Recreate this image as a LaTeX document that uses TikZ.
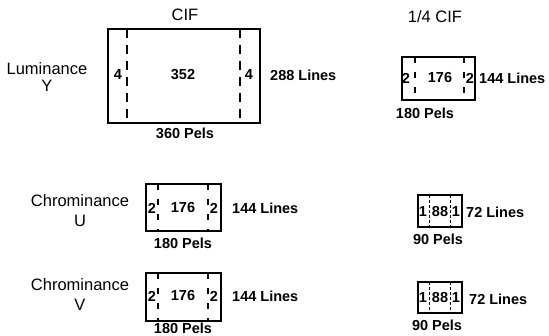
\documentclass[tikz,border=0pt]{standalone}
\usepackage{fontspec}
\setmainfont{Liberation Sans}
\begin{document}
\begin{tikzpicture}[x=1pt,y=-1pt,
  lbl/.style={font=\fontsize{16.5}{16.5}\selectfont, inner sep=0pt},
  num/.style={font=\fontsize{14.5}{14.5}\selectfont\bfseries, inner sep=0pt},
  frm/.style={draw, line width=1.8pt, inner sep=0pt},
  bigdash/.style={line width=1.5pt, dash pattern=on 9pt off 7pt},
  middash/.style={line width=1.2pt, dash pattern=on 6pt off 9pt},
  smalldash/.style={line width=1pt, dash pattern=on 3pt off 2pt}]
\useasboundingbox (0,0) rectangle (549,335);

% ---- CIF ----
\node[lbl] (cif) at (185,15) {CIF};
\node[lbl] (lum) at (47,69) {Luminance};
\node[lbl] (lumy) at (47,86) {Y};
\node[frm, minimum width=152pt, minimum height=94pt] (ybox) at (184,76) {};
\draw[bigdash] (127,29) -- (127,123);
\draw[bigdash] (240,29) -- (240,123);
\node[num] (y4a) at (118,75) {4};
\node[num] (y352) at (183,75) {352};
\node[num] (y4b) at (249,75) {4};
\node[num, anchor=west] (ylines) at (270,75) {288 Lines};
\node[num] (ypels) at (185,133) {360 Pels};

% ---- Chrominance U ----
\node[lbl] (chu) at (80,201) {Chrominance};
\node[lbl] (chuu) at (80,221) {U};
\node[frm, minimum width=75pt, minimum height=47pt] (ubox) at (183.5,207.5) {};
\draw[middash] (158,184) -- (158,231);
\draw[middash] (208,184) -- (208,231);
\node[num] (u2a) at (152,208) {2};
\node[num] (u176) at (183,208) {176};
\node[num] (u2b) at (214,208) {2};
\node[num, anchor=west] (ulines) at (232,208) {144 Lines};
\node[num] (upels) at (183,243) {180 Pels};

% ---- Chrominance V ----
\node[lbl] (chv) at (80,285) {Chrominance};
\node[lbl] (chvv) at (80,305) {V};
\node[frm, minimum width=75pt, minimum height=48pt] (vbox) at (183.5,297) {};
\draw[middash] (158,273) -- (158,321);
\draw[middash] (208,273) -- (208,321);
\node[num] (v2a) at (152,296) {2};
\node[num] (v176) at (183,296) {176};
\node[num] (v2b) at (214,296) {2};
\node[num, anchor=west] (vlines) at (232,296) {144 Lines};
\node[num] (vpels) at (183,328) {180 Pels};

% ---- 1/4 CIF ----
\node[lbl] (qcif) at (435,17) {1/4 CIF};
\node[frm, minimum width=73pt, minimum height=43pt] (qbox) at (438.5,78.5) {};
\draw[middash] (415,57) -- (415,100);
\draw[middash] (464,57) -- (464,100);
\node[num] (q2a) at (406,78) {2};
\node[num] (q176) at (440,78) {176};
\node[num] (q2b) at (470,78) {2};
\node[num, anchor=west] (qlines) at (479,78) {144 Lines};
\node[num] (qpels) at (425,113) {180 Pels};

% ---- 1/4 CIF U ----
\node[frm, minimum width=44pt, minimum height=32pt] (qubox) at (440,211) {};
\draw[smalldash] (429,195) -- (429,227);
\draw[smalldash] (450,195) -- (450,227);
\node[num] (qu1a) at (423,212) {1};
\node[num] (qu88) at (440,212) {88};
\node[num] (qu1b) at (456,212) {1};
\node[num, anchor=west] (qulines) at (466,212) {72 Lines};
\node[num] (qupels) at (438,239) {90 Pels};

% ---- 1/4 CIF V ----
\node[frm, minimum width=44pt, minimum height=31pt] (qvbox) at (440,297.5) {};
\draw[smalldash] (429,282) -- (429,313);
\draw[smalldash] (450,282) -- (450,313);
\node[num] (qv1a) at (423,298) {1};
\node[num] (qv88) at (440,298) {88};
\node[num] (qv1b) at (456,298) {1};
\node[num, anchor=west] (qvlines) at (469,299) {72 Lines};
\node[num] (qvpels) at (437,325) {90 Pels};
\end{tikzpicture}
\end{document}
